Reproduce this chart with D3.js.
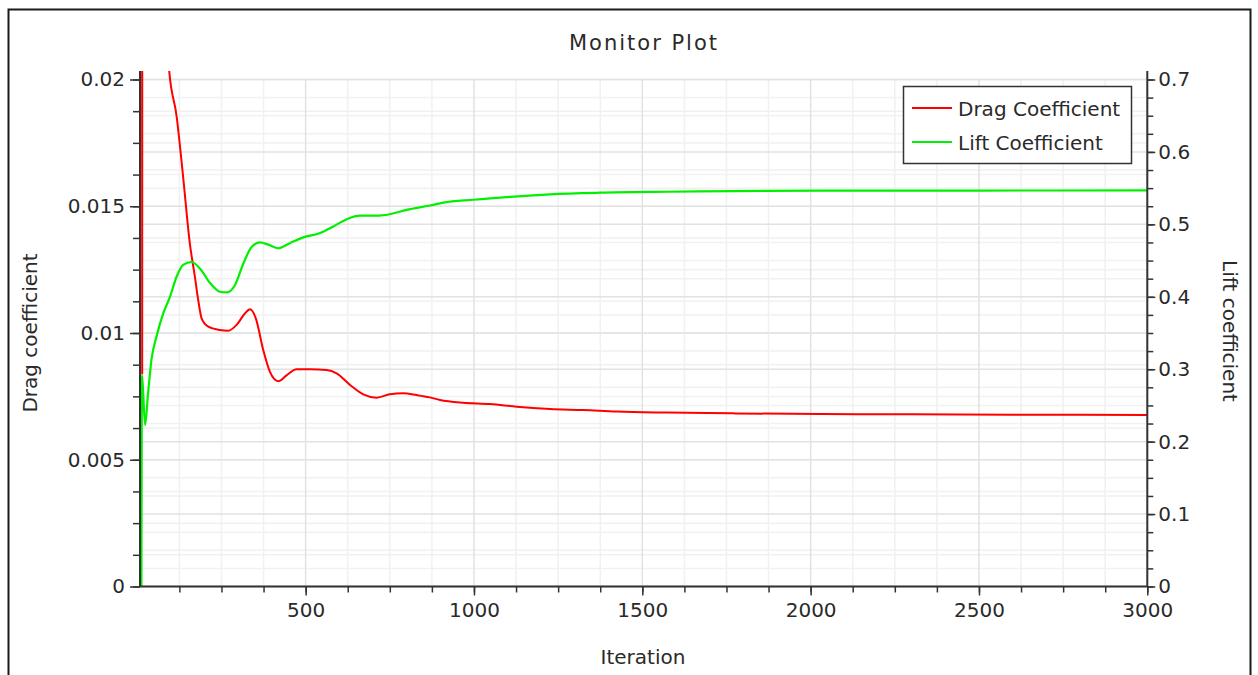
<!DOCTYPE html>
<html>
<head>
<meta charset="utf-8">
<script src="https://cdn.jsdelivr.net/npm/d3@7"></script>
<style>
  html, body { margin: 0; padding: 0; background: #fff; }
  svg { display: block; font-family: "DejaVu Sans", sans-serif; }
</style>
</head>
<body>
<svg id="chart" width="1258" height="675"></svg>
<script>
// Monitor data: iteration numbers and coefficient values
const dragIter = [14, 14.5, 15, 88, 95, 117, 136, 156, 171, 181, 191, 211, 245, 270, 295, 320, 335, 352, 374, 394,
  419, 444, 473, 513, 562, 592, 632, 671, 711, 750, 790, 830, 869, 899, 968, 1048, 1127, 1226, 1325, 1424,
  1573, 1770, 2028, 2300, 2600, 3000];
const dragValue = [0.04, 0.0084, 0.04, 0.0215, 0.0203, 0.01853, 0.01617, 0.01354, 0.01222, 0.0113, 0.01058,
  0.01025, 0.01012, 0.01009, 0.01032, 0.01078, 0.01094, 0.01058, 0.00933, 0.00847, 0.0081, 0.00834, 0.00857,
  0.00857, 0.00854, 0.00841, 0.00795, 0.00758, 0.00745, 0.00758, 0.00762, 0.00755, 0.00746, 0.00736, 0.00725,
  0.0072, 0.00709, 0.007, 0.00696, 0.0069, 0.00686, 0.00683, 0.0068, 0.00679, 0.00678, 0.00677];

const liftIter = [11.5, 14, 23, 32, 42, 57, 77, 97, 117, 136, 161, 186, 216, 245, 265, 290, 315, 340, 364, 389,
  419, 453, 493, 543, 582, 622, 661, 711, 750, 800, 869, 909, 998, 1107, 1226, 1375, 1573, 1770, 2028, 2500, 3000];
const liftValue = [-0.2, 0.292, 0.223, 0.267, 0.313, 0.345, 0.377, 0.400, 0.428, 0.444, 0.448, 0.439, 0.419,
  0.407, 0.406, 0.416, 0.446, 0.469, 0.475, 0.472, 0.467, 0.474, 0.482, 0.488, 0.497, 0.507, 0.512, 0.512,
  0.514, 0.520, 0.526, 0.530, 0.534, 0.538, 0.5415, 0.5437, 0.545, 0.546, 0.5465, 0.5467, 0.5468];

// Axis ticks
const iterTicks = [500, 1000, 1500, 2000, 2500, 3000];
const iterMinorStep = 125;
const dragTicks = [0, 0.005, 0.01, 0.015, 0.02];
const dragTickLabels = ["0", "0.005", "0.01", "0.015", "0.02"];
const dragMinorStep = 0.00125;
const liftTicks = [0, 0.1, 0.2, 0.3, 0.4, 0.5, 0.6, 0.7];
const liftTickLabels = ["0", "0.1", "0.2", "0.3", "0.4", "0.5", "0.6", "0.7"];
const liftMinorStep = 0.025;

const seriesNames = ["Drag Coefficient", "Lift Coefficient"];
const seriesColors = ["#ff0000", "#00f000"];

// ---- layout ----
const svg = d3.select("#chart");
const plot = { left: 140, right: 1147.3, top: 71, bottom: 586.5, gridTop: 79.5 };
const axisColor = "#333";
const textColor = "#2a2a2a";

const x = d3.scaleLinear().domain([8, 3000]).range([plot.left, plot.right]);
const yDrag = d3.scaleLinear().domain([0, 0.02]).range([plot.bottom, plot.gridTop]);
const yLift = d3.scaleLinear().domain([0, 0.7]).range([plot.bottom, plot.gridTop]);

const eps = 1e-9;
const iterMinor = d3.range(iterMinorStep, 3000 + eps, iterMinorStep);
const dragMinor = d3.range(0, 0.02 + eps, dragMinorStep);
const liftMinor = d3.range(0, 0.7 + eps, liftMinorStep);

// outer frame
svg.append("rect")
  .attr("x", 8.5).attr("y", 9.5).attr("width", 1242).attr("height", 700)
  .attr("fill", "#fff").attr("stroke", "#1a1a1a").attr("stroke-width", 2);

// ---- grid ----
const grid = svg.append("g");
const isMajor = (v, ticks) => ticks.some(t => Math.abs(t - v) < 1e-7);

function hLines(vals, scale, color) {
  grid.selectAll(null).data(vals).join("line")
    .attr("x1", plot.left).attr("x2", plot.right)
    .attr("y1", d => scale(d)).attr("y2", d => scale(d))
    .attr("stroke", color).attr("stroke-width", 1.5);
}
function vLines(vals, color) {
  grid.selectAll(null).data(vals).join("line")
    .attr("y1", plot.gridTop).attr("y2", plot.bottom)
    .attr("x1", d => x(d)).attr("x2", d => x(d))
    .attr("stroke", color).attr("stroke-width", 1.5);
}
const minorGrid = "#f1f1f1", majorGrid = "#e2e2e2";
hLines(dragMinor.filter(v => !isMajor(v, dragTicks)), yDrag, minorGrid);
hLines(liftMinor.filter(v => !isMajor(v, liftTicks)), yLift, minorGrid);
vLines(iterMinor.filter(v => !isMajor(v, iterTicks)), minorGrid);
hLines(dragTicks, yDrag, majorGrid);
hLines(liftTicks, yLift, majorGrid);
vLines(iterTicks, majorGrid);

// ---- series ----
svg.append("clipPath").attr("id", "plotClip")
  .append("rect")
  .attr("x", plot.left).attr("y", plot.top)
  .attr("width", plot.right - plot.left).attr("height", plot.bottom - plot.top);

const lines = svg.append("g").attr("clip-path", "url(#plotClip)");
const dragLine = d3.line().curve(d3.curveMonotoneX)
  .x((d, i) => x(dragIter[i])).y(d => yDrag(d));
const liftLine = d3.line().curve(d3.curveMonotoneX)
  .x((d, i) => x(liftIter[i])).y(d => yLift(d));

lines.append("path").datum(dragValue).attr("d", dragLine)
  .attr("fill", "none").attr("stroke", seriesColors[0]).attr("stroke-width", 2)
  .attr("stroke-linejoin", "round");
lines.append("path").datum(liftValue).attr("d", liftLine)
  .attr("fill", "none").attr("stroke", seriesColors[1]).attr("stroke-width", 2.2)
  .attr("stroke-linejoin", "round");

// ---- axes ----
function styleAxis(g) {
  g.select(".domain").remove();
  g.selectAll(".tick line").attr("stroke", axisColor).attr("stroke-width", 1.5);
  g.selectAll(".tick text").attr("fill", textColor)
    .style("font-family", "'DejaVu Sans', sans-serif").style("font-size", "20px");
}

// left (drag)
svg.append("g").attr("transform", `translate(${plot.left},0)`)
  .call(d3.axisLeft(yDrag).tickValues(dragMinor).tickSize(7).tickFormat(""))
  .call(styleAxis);
svg.append("g").attr("transform", `translate(${plot.left},0)`)
  .call(d3.axisLeft(yDrag).tickValues(dragTicks).tickSize(10).tickPadding(5)
    .tickFormat((d, i) => dragTickLabels[i]))
  .call(styleAxis);

// right (lift)
svg.append("g").attr("transform", `translate(${plot.right},0)`)
  .call(d3.axisRight(yLift).tickValues(liftMinor).tickSize(6).tickFormat(""))
  .call(styleAxis);
svg.append("g").attr("transform", `translate(${plot.right},0)`)
  .call(d3.axisRight(yLift).tickValues(liftTicks).tickSize(8).tickPadding(3)
    .tickFormat((d, i) => liftTickLabels[i]))
  .call(styleAxis);

// bottom (iteration)
svg.append("g").attr("transform", `translate(0,${plot.bottom})`)
  .call(d3.axisBottom(x).tickValues(iterMinor).tickSize(6).tickFormat(""))
  .call(styleAxis);
svg.append("g").attr("transform", `translate(0,${plot.bottom})`)
  .call(d3.axisBottom(x).tickValues(iterTicks).tickSize(9).tickPadding(7)
    .tickFormat(d3.format("d")))
  .call(styleAxis);

// axis lines
const axes = svg.append("g").attr("stroke", axisColor).attr("stroke-width", 2);
axes.append("line").attr("x1", plot.left).attr("x2", plot.left).attr("y1", plot.top).attr("y2", plot.bottom);
axes.append("line").attr("x1", plot.right).attr("x2", plot.right).attr("y1", plot.top).attr("y2", plot.bottom);
axes.append("line").attr("x1", plot.left).attr("x2", plot.right).attr("y1", plot.bottom).attr("y2", plot.bottom);

// ---- titles ----
const label = (txt, xPos, yPos, rot, size, spacing) => svg.append("text")
  .attr("transform", `translate(${xPos},${yPos}) rotate(${rot})`)
  .attr("text-anchor", "middle").attr("fill", textColor)
  .style("font-size", size + "px").style("letter-spacing", spacing + "px").text(txt);

label("Monitor Plot", 644, 50, 0, 21, 2);
label("Iteration", 643, 664, 0, 20, 0);
label("Drag coefficient", 37, 333, -90, 20, 0);
label("Lift coefficient", 1223, 331, 90, 20, 0);

// ---- legend ----
const legend = svg.append("g");
legend.append("rect")
  .attr("x", 903.5).attr("y", 86.5).attr("width", 228).attr("height", 77)
  .attr("fill", "#fff").attr("stroke", "#333").attr("stroke-width", 1.5);
const rowY = [108, 142];
seriesNames.forEach((name, i) => {
  legend.append("line")
    .attr("x1", 912).attr("x2", 952).attr("y1", rowY[i]).attr("y2", rowY[i])
    .attr("stroke", seriesColors[i]).attr("stroke-width", 2);
  legend.append("text")
    .attr("x", 958).attr("y", rowY[i] + 7.5)
    .attr("fill", textColor).style("font-size", "20px").text(name);
});
</script>
</body>
</html>
